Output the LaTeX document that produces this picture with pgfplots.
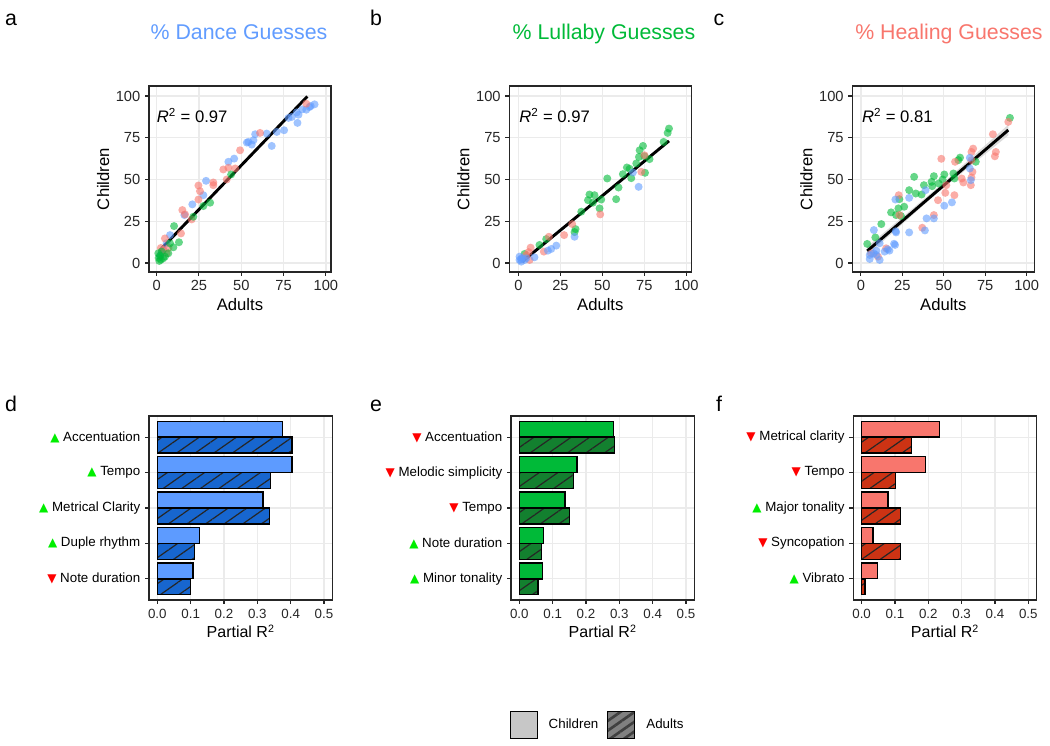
\documentclass[border=0pt]{standalone}
\usepackage{fontspec}
\setmainfont{Liberation Sans}
\newfontfamily\sym{DejaVu Sans}
\usepackage{pgfplots}
\pgfplotsset{compat=1.18}
\usetikzlibrary{patterns.meta}

\definecolor{cblue}{HTML}{619CFF}
\definecolor{cgreen}{HTML}{00BA38}
\definecolor{cred}{HTML}{F8766D}
\definecolor{ablue}{HTML}{1766CF}
\definecolor{agreen}{HTML}{13802F}
\definecolor{ared}{HTML}{CC3314}
\definecolor{bblue}{HTML}{5D9BFF}
\definecolor{bgreen}{HTML}{00BA38}
\definecolor{bred}{HTML}{F8766D}
\definecolor{lime}{HTML}{00EE00}
\definecolor{gridc}{HTML}{EBEBEB}

\newcommand{\up}{{\sym\fontsize{9}{10}\selectfont\color{lime}▲}}
\newcommand{\dn}{{\sym\fontsize{9}{10}\selectfont\color{red}▼}}

\pgfplotsset{
  base/.style={
    scale only axis,
    axis line style={black!85, line width=1.1pt},
    grid=major,
    grid style={gridc, line width=0.9pt},
    tick style={black!85, line width=0.8pt},
    tick align=outside,
    major tick length=3pt,
    tick pos=left,
    /pgf/number format/assume math mode=true,
    tick label style={black!85},
  },
  scat/.style={
    base,
    width=136.5pt, height=139.5pt,
    ymin=-5.4, ymax=106,
    xtick={0,25,50,75,100}, ytick={0,25,50,75,100},
    ticklabel style={font=\fontsize{11}{12}\selectfont},
    xlabel={Adults}, ylabel={Children},
    label style={font=\fontsize{12.5}{14}\selectfont},
    xlabel style={yshift=1pt},
    ylabel style={yshift=-2pt},
  },
  pts/.style={only marks, mark=*, mark size=3pt,
    mark options={fill=#1, draw opacity=0, fill opacity=0.6}},
  bars/.style={
    base,
    width=137.5pt, height=138pt,
    xmin=-0.025, xmax=0.525,
    ymin=0.4, ymax=5.6,
    xtick={0,0.1,0.2,0.3,0.4,0.5},
    xticklabel style={/pgf/number format/.cd, fixed, fixed zerofill, precision=1},
    ytick={1,2,3,4,5},
    ticklabel style={font=\fontsize{10}{11}\selectfont},
    yticklabel style={font=\fontsize{10}{11}\selectfont, black},
    xlabel={Partial R\textsuperscript{2}},
    xlabel style={font=\fontsize{12}{13}\selectfont, yshift=2pt},
  },
  kid/.style={xbar, forget plot, bar width=0.45, bar shift=0.225, fill=#1, draw=black, line width=1.1pt},
  adult/.style={xbar, forget plot, bar width=0.45, bar shift=-0.225, fill=#1, draw=black, line width=1.1pt,
    postaction={pattern={Lines[angle=35,distance=8pt,line width=0.9pt]}, pattern color=black!85}},
}

\begin{document}
\begin{tikzpicture}
\path[use as bounding box] (0pt,0pt) rectangle (787.5pt,559.5pt);

% panel letters and titles
\node[font=\fontsize{16}{18}\selectfont, anchor=base] at (8.25pt,540pt) {a};
\node[font=\fontsize{16}{18}\selectfont, anchor=base] at (282pt,540pt) {b};
\node[font=\fontsize{16}{18}\selectfont, anchor=base] at (539.25pt,540pt) {c};
\node[font=\fontsize{16}{18}\selectfont, anchor=base] at (8.25pt,251pt) {d};
\node[font=\fontsize{16}{18}\selectfont, anchor=base] at (282pt,251pt) {e};
\node[font=\fontsize{16}{18}\selectfont, anchor=base] at (539.25pt,251pt) {f};
\node[font=\fontsize{16}{18}\selectfont, anchor=base, text=cblue] at (179.25pt,530pt) {\% Dance Guesses};
\node[font=\fontsize{16}{18}\selectfont, anchor=base, text=cgreen] at (453pt,530pt) {\% Lullaby Guesses};
\node[font=\fontsize{16}{18}\selectfont, anchor=base, text=cred] at (711.75pt,530pt) {\% Healing Guesses};

% ---------------- a ----------------
\begin{axis}[scat, at={(111.75pt,355.5pt)}, anchor=south west, xmin=-4.5, xmax=103]
\addplot[pts=cblue] coordinates {
(93.3,95) (90.3,93.4) (88.4,91.8) (82.8,90.2) (83.8,88.8) (79.9,87.5) (77.9,86.9)
(83.2,83.9) (75.3,79.5) (71,78.5) (68,70.1) (65,77.5) (58.2,77.1) (57.2,73.5)
(54.2,72.5) (53.3,72.1) (56.2,70.9) (45.8,62.5) (42.4,60.6) (29.2,49.2) (27.6,40.6)
(21.1,35.1) (16.4,28.7) (7.9,16.7) (5.9,11.8) (3,6) (2,4) (4,8) (91,94) (86,92)};
\addplot[pts=cred] coordinates {
(88.4,95.4) (61.1,77.9) (49.3,67.5) (39.4,56) (42.4,57) (46.4,56.6) (41.4,50)
(33.5,48.2) (33.5,46.6) (24.7,46.4) (25.6,43) (24.7,38) (15.2,31.7) (16.8,29.1)
(20.7,26.1) (14.4,17.7) (4.9,14.7) (3.9,7.8) (5.9,5.8) (2.5,9) (7,9)};
\addplot[pts=cgreen] coordinates {
(31.6,36.1) (27.6,34.1) (21.7,27.7) (10.3,22.1) (13.2,12.4) (9.9,9.4) (6.9,5.8)
(2,4.4) (1.6,1.2) (3.9,2.8) (1,5.8) (3,6.8) (4.9,3.8) (7.9,11.8) (44,53) (2.5,2) (1.2,3)};
\addplot[black, line width=2.2pt, no marks] coordinates {(2,7.7) (89,99.7)};
\node[anchor=west, font=\fontsize{12.5}{14}\selectfont, inner sep=0pt] at (axis cs:0,88.5) {\textit{R}\textsuperscript{2} = 0.97};
\end{axis}

% ---------------- b ----------------
\begin{axis}[scat, at={(381.975pt,355.5pt)}, anchor=south west, xmin=-5.5, xmax=103]
\addplot[pts=cgreen] coordinates {
(89.7,80.5) (88.9,77.9) (86.5,72.5) (74.2,70.1) (72.2,67.5) (71.8,63.5) (75.1,63.9)
(78.1,62.2) (70.2,59.6) (64.6,57.2) (66.2,56.4) (62.2,53.2) (67.2,50.8) (75.4,54)
(52.9,50.6) (59.6,45.2) (58.2,38.2) (49.3,38) (45.3,40.6) (42.3,41) (41.4,37.6)
(44.3,36.1) (48.3,32.7) (37.4,30.7) (34,20.3) (33.4,18.5) (16.5,14.3) (12.5,10.8) (3.6,5.4)};
\addplot[pts=cred] coordinates {
(75.1,64.5) (73.2,54.6) (48.7,29.1) (32,23.3) (27.2,16.7) (18.1,15.7) (7.2,9.2)
(6.6,1.8) (4.6,4.8) (2.6,2.8) (15.1,6.8) (6,6.5)};
\addplot[pts=cblue] coordinates {
(71.6,45.6) (68.2,54.2) (33.4,15.7) (22.5,10.4) (19.5,8.4) (17.5,7.4) (9.5,3.4)
(0.6,3.8) (1.6,0.8) (3.6,1.8) (4.6,2.8) (0.6,1.8) (2,3) (1.5,2.2)};
\addplot[black, line width=2.2pt, no marks] coordinates {(2.2,0.8) (89.7,73.1)};
\node[anchor=west, font=\fontsize{12.5}{14}\selectfont, inner sep=0pt] at (axis cs:0.3,88.5) {\textit{R}\textsuperscript{2} = 0.97};
\end{axis}

% ---------------- c ----------------
\begin{axis}[scat, at={(639.225pt,355.5pt)}, anchor=south west, xmin=-5.2, xmax=104.6]
\addplot[fill=gray!35, draw=none, fill opacity=0.8] coordinates {
(3.8,4.6) (46,41.9) (88.9,76.4) (88.9,82.8) (46,44.9) (3.8,9.8)};
\addplot[pts=cgreen] coordinates {
(89.9,86.9) (12.3,23.3) (8.7,15.3) (3.8,11.4) (21.2,28.7) (22.6,32.7) (18.2,30.3)
(23.2,38.2) (24.2,28.1) (26.1,33.7) (29.1,43.6) (32.1,51.6) (33.1,41.6) (36.6,41)
(38,46.6) (42.6,48.6) (43,46) (44,52) (49.3,50) (50.3,53) (55.8,53.6) (56.4,50.6)
(58.8,61.6) (59.8,63.1) (69.3,60.6) (46.9,47.6)};
\addplot[pts=cred] coordinates {
(88.9,84.5) (79.6,77.1) (81.4,66.5) (80.8,63.9) (67.7,68.5) (66.7,66.5) (66.7,61.6)
(67.3,54.6) (66.7,51.2) (66.3,46.6) (60.8,50.6) (61.8,48.2) (56.8,60.6) (56.4,40.6)
(50.9,42) (51.5,46.6) (48.5,62.4) (46.5,37.6) (44,28.7) (37,21.1) (22.8,40.6)
(23.2,28.7) (15.2,8.8) (10.3,3.8) (6.3,5.8)};
\addplot[pts=cblue] coordinates {
(65.7,63) (65.7,56.6) (66.3,49.6) (50.3,34.3) (54.9,36.3) (39,43.6) (39.6,26.7)
(44,26.7) (38.6,19.5) (29.1,18.3) (29.1,39) (20.8,38) (21.2,18.3) (20.6,10.8)
(17.2,7.4) (16.2,8.2) (14.3,6.8) (9.3,7.4) (9.3,4.8) (5.3,4.8) (5.3,2.4) (11.3,11.8)
(7.8,19.7) (7.7,5.8) (11.3,1.8) (20,11.5) (21,19)};
\addplot[black, line width=2.2pt, no marks] coordinates {(3.8,7.2) (88.9,79.6)};
\node[anchor=west, font=\fontsize{12.5}{14}\selectfont, inner sep=0pt] at (axis cs:0.5,88.5) {\textit{R}\textsuperscript{2} = 0.81};
\end{axis}

% ---------------- d ----------------
\begin{axis}[bars, at={(111.75pt,109.5pt)}, anchor=south west,
  yticklabels={{\dn\ Note duration},{\up\ Duple rhythm},{\up\ Metrical Clarity},{\up\ Tempo},{\up\ Accentuation}}]
\addplot[kid=bblue] coordinates {(0.107,1) (0.127,2) (0.317,3) (0.4036,4) (0.376,5)};
\addplot[adult=ablue] coordinates {(0.099,1) (0.111,2) (0.336,3) (0.340,4) (0.4036,5)};
\end{axis}

% ---------------- e ----------------
\begin{axis}[bars, at={(383.25pt,109.5pt)}, anchor=south west,
  yticklabels={{\up\ Minor tonality},{\up\ Note duration},{\dn\ Tempo},{\dn\ Melodic simplicity},{\dn\ Accentuation}},
  legend style={draw=none, fill=none, at={(0.4746,-0.679)}, anchor=center,
    legend columns=2, font=\fontsize{10}{11}\selectfont,
    /tikz/every odd column/.append style={column sep=6pt},
    /tikz/every even column/.append style={column sep=4pt}},
  legend cell align=left]
\addplot[kid=bgreen] coordinates {(0.069,1) (0.073,2) (0.137,3) (0.173,4) (0.283,5)};
\addplot[adult=agreen] coordinates {(0.056,1) (0.066,2) (0.151,3) (0.163,4) (0.285,5)};
\addlegendimage{legend image code/.code={\draw[fill=black!22, draw=black, line width=1.1pt] (0pt,-10pt) rectangle (20pt,10pt);}}
\addlegendentry{Children}
\addlegendimage{legend image code/.code={\draw[fill=black!50, draw=black, line width=1.1pt, postaction={pattern={Lines[angle=35,distance=6pt,line width=2pt]}, pattern color=black!75}] (0pt,-10pt) rectangle (20pt,10pt);}}
\addlegendentry{Adults}
\end{axis}

% ---------------- f ----------------
\begin{axis}[bars, at={(639.975pt,109.5pt)}, anchor=south west,
  yticklabels={{\up\ Vibrato},{\dn\ Syncopation},{\up\ Major tonality},{\dn\ Tempo},{\dn\ Metrical clarity}}]
\addplot[kid=bred] coordinates {(0.047,1) (0.034,2) (0.0785,3) (0.192,4) (0.234,5)};
\addplot[adult=ared] coordinates {(0.010,1) (0.117,2) (0.117,3) (0.101,4) (0.149,5)};
\end{axis}
\end{tikzpicture}
\end{document}
